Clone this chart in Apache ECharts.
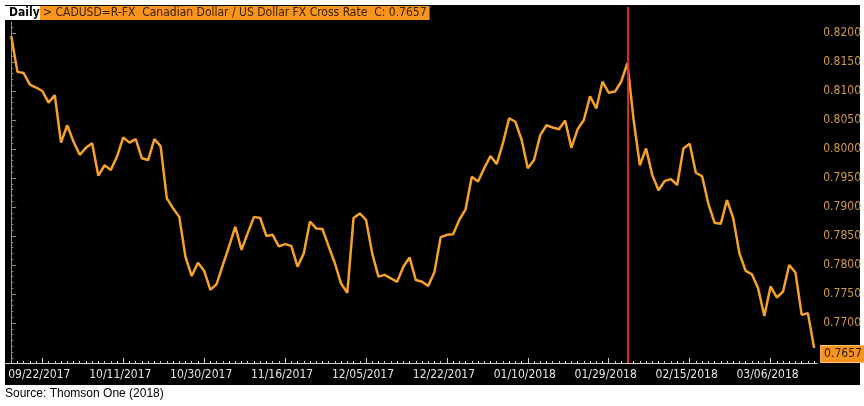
<!DOCTYPE html>
<html>
<head>
<meta charset="utf-8">
<script src="https://cdn.jsdelivr.net/npm/echarts@6/dist/echarts.min.js"></script>
<style>
html,body{margin:0;padding:0;background:#fff;}
#wrap{position:relative;width:864px;height:406px;}
#panel{position:absolute;left:5px;top:5px;width:855px;height:380px;background:#000;}
#chart{position:absolute;left:0;top:0;width:864px;height:406px;}
</style>
</head>
<body>
<div id="wrap"><div id="panel"></div><div id="chart"></div></div>
<script>
// Daily CAD/USD closes, weekdays 09/15/2017 .. 03/15/2018
const startDate = '2017-09-15';
const endDate = '2018-03-15';
const values = [
 0.8195,0.8133,0.8131,0.8111,0.8106,0.8100,0.8080,0.8093,0.8011,0.8041,
 0.8013,0.7990,0.8002,0.8010,0.7954,0.7972,0.7964,0.7987,0.8020,0.8011,
 0.8017,0.7984,0.7981,0.8017,0.8005,0.7915,0.7898,0.7883,0.7814,0.7781,
 0.7804,0.7790,0.7757,0.7767,0.7800,0.7832,0.7866,0.7826,0.7855,0.7883,
 0.7881,0.7850,0.7852,0.7832,0.7836,0.7833,0.7797,0.7820,0.7875,0.7863,
 0.7862,0.7832,0.7803,0.7768,0.7752,0.7881,0.7889,0.7878,0.7820,0.7780,
 0.7783,0.7777,0.7771,0.7797,0.7813,0.7774,0.7771,0.7764,0.7788,0.7848,
 0.7852,0.7853,0.7878,0.7896,0.7952,0.7944,0.7967,0.7988,0.7974,0.8010,
 0.8053,0.8047,0.8016,0.7967,0.7981,0.8024,0.8041,0.8037,0.8034,0.8049,
 0.8002,0.8034,0.8050,0.8091,0.8070,0.8116,0.8097,0.8099,0.8116,0.8148,
 0.8050,0.7972,0.8001,0.7955,0.7929,0.7945,0.7948,0.7938,0.8001,0.8009,
 0.7959,0.7953,0.7906,0.7873,0.7871,0.7912,0.7881,0.7820,0.7790,0.7784,
 0.7760,0.7712,0.7763,0.7744,0.7754,0.7800,0.7787,0.7714,0.7717,0.7657
];
const xTickLabels = ['09/22/2017','10/11/2017','10/30/2017','11/16/2017','12/05/2017',
  '12/22/2017','01/10/2018','01/29/2018','02/15/2018','03/06/2018'];
const yTickLabels = ['0.7700','0.7750','0.7800','0.7850','0.7900','0.7950','0.8000','0.8050','0.8100','0.8150','0.8200'];
const markerDate = '02/01/2018';
const yMin = 0.7631, yMax = 0.8219;

// weekday categories
const categories = [];
(function(){
  const d = new Date(startDate + 'T12:00:00Z');
  const e = new Date(endDate + 'T12:00:00Z');
  while (d <= e) {
    const wd = d.getUTCDay();
    if (wd !== 0 && wd !== 6) {
      const mm = String(d.getUTCMonth()+1).padStart(2,'0');
      const dd = String(d.getUTCDate()).padStart(2,'0');
      categories.push(mm + '/' + dd + '/' + d.getUTCFullYear());
    }
    d.setUTCDate(d.getUTCDate()+1);
  }
})();

const NARROW = "'Liberation Sans Narrow','Arial Narrow','DejaVu Sans Condensed',sans-serif";
const allIdx = categories.map((c,i)=>i);
const labelIdx = xTickLabels.map(l => categories.indexOf(l));
const yMajor = yTickLabels.map(Number);
const yMinor = [];
for (let k = 0; k <= 60; k++) { const v = +(0.764 + k*0.001).toFixed(4); if (v > yMin && v < yMax) yMinor.push(v); }
const lastVal = values[values.length-1];
const markIdx = categories.indexOf(markerDate) - 0.35;

const chart = echarts.init(document.getElementById('chart'), null, {renderer:'canvas'});
const xCommon = {type:'value', min:-1, max:129.5, splitLine:{show:false}};
chart.setOption({
  backgroundColor:'transparent',
  animation:false,
  title:[
    {text:'Daily', left:5, top:6, padding:[1,4,1,4], backgroundColor:'#ffffff',
     textStyle:{color:'#000', fontSize:12, fontWeight:'bold', fontFamily:NARROW}},
    {text:'> CADUSD=R-FX  Canadian Dollar / US Dollar FX Cross Rate  C: ' + lastVal.toFixed(4),
     left:40, top:6, padding:[1,3,1,3], backgroundColor:'#f7941d',
     textStyle:{color:'#3a2200', fontSize:12, fontWeight:'normal', fontFamily:NARROW}},
    {text:'Source: Thomson One (2018)', left:5, top:388, padding:0,
     textStyle:{color:'#000', fontSize:12, fontWeight:'normal', fontFamily:"'Liberation Sans',Arial,sans-serif"}}
  ],
  grid:[
    {left:5, right:43, top:22, bottom:43, containLabel:false},
    {left:5, right:43, top:7, bottom:43, containLabel:false}
  ],
  xAxis:[
    Object.assign({}, xCommon, {gridIndex:0, position:'bottom',
      axisLine:{show:true, lineStyle:{color:'#cfcfcf', width:1}},
      axisTick:{show:true, inside:true, length:2, customValues:allIdx, lineStyle:{color:'#cfcfcf'}},
      axisLabel:{show:false}}),
    Object.assign({}, xCommon, {gridIndex:0, position:'bottom',
      axisLine:{show:false},
      axisTick:{show:true, inside:true, length:5, customValues:labelIdx, lineStyle:{color:'#cfcfcf'}},
      axisLabel:{show:true, customValues:labelIdx, margin:6, color:'#e4e4e4', fontSize:12, fontFamily:NARROW,
        padding:[0,6,0,0],
        formatter:v => categories[Math.round(v)] || ''}}),
    Object.assign({}, xCommon, {gridIndex:1, show:false})
  ],
  yAxis:[
    {type:'value', gridIndex:0, position:'right', min:yMin, max:yMax, splitLine:{show:false},
     axisLine:{show:true, lineStyle:{color:'#a88c5c'}},
     axisTick:{show:true, length:5, customValues:yMajor, lineStyle:{color:'#a88c5c'}},
     axisLabel:{show:true, customValues:yMajor, margin:6, color:'#d39a4c', fontSize:12, fontFamily:NARROW,
       formatter:v => v.toFixed(4)}},
    {type:'value', gridIndex:0, position:'right', min:yMin, max:yMax, splitLine:{show:false},
     axisLine:{show:false},
     axisTick:{show:true, length:2, customValues:yMinor, lineStyle:{color:'#a88c5c'}},
     axisLabel:{show:false}},
    {type:'value', gridIndex:1, min:0, max:1, show:false}
  ],
  series:[
    {type:'line', xAxisIndex:0, yAxisIndex:0, data:values.map((v,i)=>[i,v]),
     symbol:'none', z:3,
     lineStyle:{color:'#f5a12b', width:2.5},
     endLabel:{show:true, formatter:() => lastVal.toFixed(4), backgroundColor:'#f7941d',
       color:'#2a1800', fontSize:12, fontFamily:NARROW, padding:[2,3,2,3], distance:7, offset:[0,6],
       borderColor:'#ffc070', borderWidth:1}},
    {type:'line', xAxisIndex:2, yAxisIndex:2, data:[[markIdx,0],[markIdx,1]],
     symbol:'none', z:4, lineStyle:{color:'#d8322c', width:2}}
  ]
});
</script>
</body>
</html>
